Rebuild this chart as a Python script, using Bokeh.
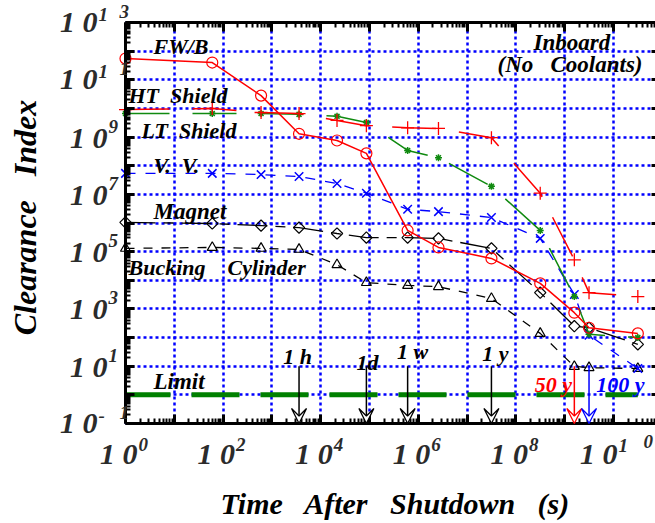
import math
from bokeh.plotting import figure
from bokeh.models import Range1d, LogAxis, FixedTicker, Label, Arrow, VeeHead
from bokeh.embed import file_html
from bokeh.resources import INLINE

# ---------------- data ----------------
times_s = [1, 60, 600, 3600, 21600, 86400, 604800, 2592000, 31536000,
           315360000, 1576800000, 3153600000, 31536000000]
fw_b = [5.5e11, 4.0e11, 2.8e10, 1.3e9, 7.6e8, 2.7e8, 5.5e5, 1.4e5, 5.8e4,
        7.8e3, 7.4e2, 2.2e2, 1.4e2]
ht_shield = [9.1e9, 1.0e10, 7.2e9, 6.6e9, 3.8e9, 2.5e9, 2.1e9, 2.0e9, 9.5e8,
             1.1e7, 5.2e4, 3.7e3, 2.7e3]
lt_shield = [6.6e9, 6.6e9, 6.6e9, 6.2e9, 5.3e9, 3.2e9, 3.4e8, 1.9e8, 1.9e7,
             5.5e5, 2.7e3, 1.3e2, 1.0e2]
vacuum_vessel = [5.4e7, 5.4e7, 4.9e7, 4.2e7, 2.4e7, 1.1e7, 3.0e6, 2.5e6, 1.55e6,
                 2.9e5, 3.2e3, 1.2e2, 8.3]
magnet = [1.05e6, 9.6e5, 8.1e5, 6.9e5, 4.3e5, 3.1e5, 3.1e5, 2.9e5, 1.3e5,
          3.7e3, 2.5e2, 2.2e2, 58]
bucking_cylinder = [1.3e5, 1.4e5, 1.3e5, 1.2e5, 3.5e4, 8.3e3, 6.6e3, 6.0e3, 2.3e3,
                    1.4e2, 9.8, 8.9, 8.3]
limit_value = 1.0

milestone_times = [3600, 86400, 604800, 31536000, 1576800000, 3153600000]
milestone_labels = ["1 h", "1d", "1 w", "1 y", "50 y", "100 y"]
milestone_colors = ["black", "black", "black", "black", "#ff0000", "#0000ff"]

x_tick_exponents = [0, 2, 4, 6, 8, 10]
y_tick_exponents = [13, 11, 9, 7, 5, 3, 1, -1]

NB = "\u00a0"
series_names = ["FW/B", "HT" + NB + " Shield", "LT" + NB + " Shield", "V." + NB + " V.",
                "Magnet", "Bucking" + NB * 3 + " Cylinder"]
x_title = "Time" + NB * 2 + " After" + NB * 2 + " Shutdown" + NB * 2 + " (s)"
y_title = "Clearance" + NB * 2 + " Index"

# ---------------- figure (frame spans the whole canvas) ----------------
X0, X1 = 1.0, 10 ** 10.861          # plotted time span (axis box)
Y0, Y1 = 0.1, 1e13                  # plotted clearance span (axis box)
p = figure(width=655, height=523, x_axis_type="log", y_axis_type="log",
           x_range=Range1d(10 ** -2.5615, X1), y_range=Range1d(10 ** -4.491, 10 ** 13.768),
           output_backend="svg", toolbar_location=None,
           min_border_left=0, min_border_right=0, min_border_top=0, min_border_bottom=0,
           background_fill_color="white", border_fill_color="white",
           outline_line_color=None)

xt = FixedTicker(ticks=[10.0 ** k for k in range(0, 12)],
                 minor_ticks=[m * 10.0 ** k for k in range(0, 11) for m in range(2, 10)])
yt = FixedTicker(ticks=[10.0 ** k for k in range(-1, 14)],
                 minor_ticks=[m * 10.0 ** k for k in range(-1, 13) for m in range(2, 10)])


def style_axis(ax, ticker, loc, bounds):
    ax.ticker = ticker
    ax.fixed_location = loc
    ax.bounds = bounds
    ax.axis_line_width = 3
    ax.axis_line_color = "black"
    ax.major_tick_in = 9
    ax.major_tick_out = 0
    ax.minor_tick_in = 5
    ax.minor_tick_out = 0
    ax.major_tick_line_width = 3
    ax.minor_tick_line_width = 2
    ax.major_label_text_font_size = "1px"
    ax.major_label_text_alpha = 0
    ax.major_label_standoff = 0


style_axis(p.xaxis[0], xt, Y0, (X0, X1))
style_axis(p.yaxis[0], yt, X0, (Y0, Y1))
top = LogAxis()
style_axis(top, xt, Y1, (X0, X1))
p.add_layout(top, "above")
right = LogAxis()
style_axis(right, yt, 10 ** ((660 - 125) / 48.8), (Y0, Y1))
p.add_layout(right, "right")

grid_ok = True
for g, t, b, cb in ((p.xgrid[0], xt, (X0, X1), (Y0, Y1)), (p.ygrid[0], yt, (Y0, Y1), (X0, X1))):
    g.ticker = t
    g.grid_line_color = "#0000ff"
    g.grid_line_width = 2.5
    g.grid_line_dash = "3 3"
    g.bounds = b
    try:
        g.cross_bounds = cb
    except Exception:
        grid_ok = False
if not grid_ok:
    p.xgrid.visible = False
    p.ygrid.visible = False
    xs = [10.0 ** k for k in range(1, 11)]
    ys = [10.0 ** k for k in range(0, 13)]
    p.segment(x0=xs, y0=[Y0] * len(xs), x1=xs, y1=[Y1] * len(xs), color="#0000ff",
              line_width=2.5, line_dash="3 3", level="underlay")
    p.segment(x0=[X0] * len(ys), y0=ys, x1=[X1] * len(ys), y1=ys, color="#0000ff",
              line_width=2.5, line_dash="3 3", level="underlay")

# limit line
p.line([times_s[0], times_s[-1]], [limit_value, limit_value], color="#008000",
       line_width=5, line_dash="48 21", line_dash_offset=3)

GREEN = "#108a10"
p.line(times_s, bucking_cylinder, color="black", line_width=1.3, line_dash="9 9")
p.scatter(times_s, bucking_cylinder, marker="triangle", size=10, fill_color=None,
          line_color="black", line_width=1.2)
p.line(times_s, magnet, color="black", line_width=1.3, line_dash="30 8 10 8")
p.scatter(times_s, magnet, marker="square", angle=math.pi / 4, size=8, fill_color=None,
          line_color="black", line_width=1.2)
p.line(times_s, vacuum_vessel, color="#0000ff", line_width=1.3, line_dash="10 10")
p.scatter(times_s, vacuum_vessel, marker="x", size=12, line_color="#0000ff", line_width=1.5)
p.line(times_s, lt_shield, color=GREEN, line_width=1.5, line_dash="44 23")
p.scatter(times_s, lt_shield, marker="asterisk", size=7, line_color=GREEN, line_width=1.5)
p.line(times_s, ht_shield, color="#ff0000", line_width=1.5, line_dash="44 23")
p.scatter(times_s, ht_shield, marker="cross", size=13, line_color="#ff0000", line_width=1.3)
p.line(times_s, fw_b, color="#ff0000", line_width=1.5)
p.scatter(times_s, fw_b, marker="circle", size=11, fill_color=None,
          line_color="#ff0000", line_width=1.2)

# milestone arrows
for t, c in zip(milestone_times, milestone_colors):
    p.add_layout(Arrow(x_start=t, y_start=10, x_end=t, y_end=Y0, line_color=c, line_width=1.5,
                       end=VeeHead(size=15, fill_color="white", line_color=c, line_width=1.3)))

# ---------------- texts ----------------
FONT = "Liberation Serif"


def X(xw):
    return 10 ** ((xw - 125) / 48.8)


def Y(yw):
    return 10 ** (13 - (yw - 22) / 28.643)


def lab(text, xw, yw, size, align="left", color="black", angle=0.0):
    p.add_layout(Label(x=X(xw), y=Y(yw), text=text, text_font=FONT,
                       text_font_style="bold italic", text_font_size=f"{size}px",
                       text_color=color, text_align=align, text_baseline="middle",
                       angle=angle))


TICKC = "#2b2b2b"
# y tick labels
for k in y_tick_exponents:
    gy = 22 + (13 - k) * 28.643
    s = str(k)
    if len(s) == 1:
        lab("1 0", 107, gy, 30, "right", TICKC)
        lab(s, 108, gy - 11, 19, "left", TICKC)
    else:
        lab("1 0", 97, gy - 1, 30, "right", TICKC)
        lab(s[0], 98, gy - 8, 19, "left", TICKC)
        lab(s[1], 119, gy - 11, 19, "left", TICKC)

# x tick labels
for k in x_tick_exponents:
    gx = 125 + 48.8 * k
    s = str(k)
    if len(s) == 1:
        lab("1 0", gx + 12, 453, 30, "right", TICKC)
        lab(s, gx + 13, 444, 19, "left", TICKC)
    else:
        lab("1 0", gx + 4, 453, 30, "right", TICKC)
        lab(s[0], gx + 5, 445, 19, "left", TICKC)
        lab(s[1], gx + 30, 441, 19, "left", TICKC)

# axis titles
lab(x_title, 395, 503, 30, "center")
lab(y_title, 24, 217, 32, "center", angle=math.pi / 2)

# series labels
lab(series_names[0], 153, 46, 22)
lab(series_names[1], 128, 95, 22)
lab(series_names[2], 141, 130, 22)
lab(series_names[3], 153, 165, 22)
lab(series_names[4], 153, 211, 23)
lab(series_names[5], 128, 267, 22)
lab("Limit", 153, 381, 23)
lab("Inboard", 533, 42, 23)
lab("(No" + NB * 2 + " Coolants)", 497, 64, 23)

# milestone labels
ms_pos = [(297, 356), (367, 362), (412, 351), (495, 353), (553, 384), (620, 384)]
for (xw, yw), text, c in zip(ms_pos, milestone_labels, milestone_colors):
    lab(text, xw, yw, 22, "center", c)

open("out.html", "w").write(file_html(p, INLINE))
